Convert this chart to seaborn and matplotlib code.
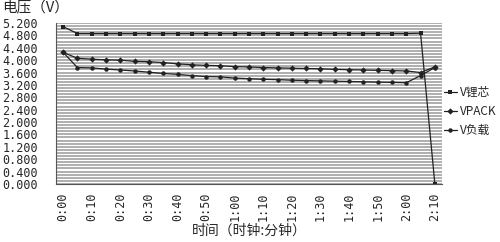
import numpy as np
import pandas as pd
import matplotlib
matplotlib.use("Agg")
import matplotlib.pyplot as plt
import seaborn as sns

# ---- data ----
minutes = list(range(0, 135, 5))
series_names = ["V锂芯", "VPACK", "V负载"]
v_top = [5.08] + [4.86] * 24 + [4.87, 0.0]
v_mid = [4.25, 4.06, 4.03, 4.01, 4.00, 3.96, 3.95, 3.92, 3.88, 3.85, 3.83, 3.82,
         3.79, 3.78, 3.76, 3.75, 3.74, 3.73, 3.72, 3.70, 3.69, 3.68, 3.67, 3.66,
         3.65, 3.60, 3.78]
v_low = [4.25, 3.76, 3.75, 3.71, 3.68, 3.65, 3.61, 3.57, 3.54, 3.50, 3.47, 3.46,
         3.42, 3.40, 3.38, 3.37, 3.35, 3.34, 3.33, 3.32, 3.31, 3.30, 3.29, 3.28,
         3.27, 3.50, 3.76]
tick_labels = ["0:00", "0:10", "0:20", "0:30", "0:40", "0:50", "1:00", "1:10",
               "1:20", "1:30", "1:40", "1:50", "2:00", "2:10"]
y_ticks = [0.0, 0.4, 0.8, 1.2, 1.6, 2.0, 2.4, 2.8, 3.2, 3.6, 4.0, 4.4, 4.8, 5.2]

rows = []
for name, vals in zip(series_names, [v_top, v_mid, v_low]):
    for i, (m, v) in enumerate(zip(minutes, vals)):
        rows.append({"idx": i, "V": v, "series": name})
df = pd.DataFrame(rows)

sns.set_style("white")
plt.rcParams['font.family'] = ['Noto Sans CJK SC', 'DejaVu Sans']

fig = plt.figure(figsize=(5.0, 2.42), dpi=100)
ax = fig.add_axes([0.112, 0.24, 0.772, 0.665])

# dense horizontal grid
for g in np.arange(0, 5.2001, 0.1):
    ax.axhline(g, color="#a8a8a8", lw=1.3, zorder=0)

sns.lineplot(data=df, x="idx", y="V", hue="series", style="series",
             hue_order=series_names, style_order=series_names,
             palette=["#222222", "#222222", "#222222"],
             markers=["s", "D", "o"], dashes=False, markersize=3.2,
             markeredgewidth=0, linewidth=0.9, ax=ax, legend=True)

n = len(minutes)
ax.set_xlim(-0.5, n - 0.5)
ax.set_ylim(0, 5.2)
ax.set_yticks(y_ticks)
ax.set_yticklabels([f"{t:.3f}" for t in y_ticks], fontsize=8.5,
                   family=["DejaVu Sans Mono"])
ax.set_xticks(range(0, n, 2))
ax.set_xticklabels(tick_labels, rotation=90, fontsize=8.5,
                   family=["DejaVu Sans Mono"])
ax.set_xticks(np.arange(-0.5, n, 1), minor=True)
ax.tick_params(axis="x", which="major", length=0, pad=6)
ax.tick_params(axis="x", which="minor", length=3, direction="in", color="#333333")
ax.tick_params(axis="y", length=0, pad=13)
for s in ["top", "right"]:
    ax.spines[s].set_visible(False)
ax.spines["left"].set_color("#555555")
ax.spines["bottom"].set_color("#555555")
ax.set_xlabel("时间（时钟:分钟）", fontsize=10, labelpad=2)
ax.set_ylabel("")
fig.text(0.005, 0.965, "电压（V）", fontsize=10.5, ha="left", va="center")

leg = ax.legend(loc="center left", bbox_to_anchor=(1.005, 0.45), frameon=False,
                fontsize=8.5, handlelength=1.1, handletextpad=0.3,
                labelspacing=0.5, borderaxespad=0.0, borderpad=0.0)

fig.savefig("out.png", dpi=100)
